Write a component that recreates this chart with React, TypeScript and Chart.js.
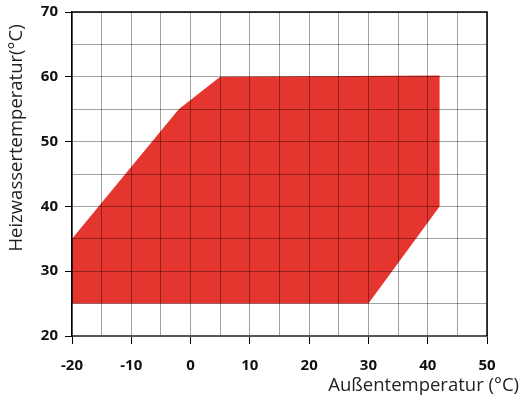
import React, { useEffect, useRef } from "react";
import { Chart, registerables } from "chart.js";

Chart.register(...registerables);

const boundaryX = [-20, -20, -2, 5, 42, 42, 30, -20];
const boundaryY = [25, 35, 55, 60, 60.2, 40, 25, 25];
const xTitle = "Außentemperatur (°C)";
const yTitle = "Heizwassertemperatur(°C)";

const FONT = "'Open Sans', 'DejaVu Sans', sans-serif";

export default function App() {
  const ref = useRef<HTMLCanvasElement | null>(null);
  useEffect(() => {
    if (!ref.current) return;
    const titlesPlugin = {
      id: "titlesPlugin",
      afterDraw(chart: any) {
        const ctx = chart.ctx;
        ctx.save();
        ctx.font = `18.5px ${FONT}`;
        ctx.fillStyle = "#222";
        ctx.textAlign = "right";
        ctx.textBaseline = "middle";
        ctx.fillText(xTitle, 519, 386);
        ctx.save();
        ctx.translate(17, 138);
        ctx.rotate(-Math.PI / 2);
        ctx.textAlign = "center";
        ctx.fillText(yTitle, 0, 0);
        ctx.restore();
        const a = chart.chartArea;
        ctx.strokeStyle = "#000";
        ctx.lineWidth = 1.5;
        ctx.beginPath();
        ctx.moveTo(a.left, a.top);
        ctx.lineTo(a.right, a.top);
        ctx.lineTo(a.right, a.bottom);
        ctx.stroke();
        ctx.restore();
      },
    };
    const tickCol = (c: any) => (c.tick && c.tick.value % 10 === 0 ? "#000" : "rgba(0,0,0,0)");
    const chart = new Chart(ref.current, {
      type: "scatter",
      data: {
        datasets: [
          {
            data: boundaryX.map((x, i) => ({ x, y: boundaryY[i] })),
            showLine: true,
            fill: "shape",
            backgroundColor: "#e5352f",
            borderColor: "#e5352f",
            borderWidth: 0,
            pointRadius: 0,
            tension: 0,
          } as any,
        ],
      },
      options: {
        animation: false,
        responsive: true,
        maintainAspectRatio: false,
        layout: { padding: { top: 12, right: 35, left: 0, bottom: 0 } },
        plugins: { legend: { display: false }, tooltip: { enabled: false } },
        scales: {
          x: {
            type: "linear",
            min: -20,
            max: 50,
            afterFit(scale: any) {
              scale.height = 62;
              scale.paddingLeft = 0;
              scale.paddingRight = 0;
            },
            ticks: {
              stepSize: 5,
              autoSkip: false,
              maxRotation: 0,
              padding: 13,
              color: "#111",
              font: { family: FONT, size: 15, weight: "bold" },
              callback: (v: any) => (Number(v) % 10 === 0 ? String(v) : ""),
            },
            grid: {
              z: 1,
              color: "rgba(0,0,0,0.36)",
              lineWidth: 1,
              tickLength: 8,
              tickColor: tickCol,
            },
            border: { color: "#555", width: 2, z: 2 },
          },
          y: {
            type: "linear",
            min: 20,
            max: 70,
            afterFit(scale: any) {
              scale.width = 72;
              scale.paddingTop = 0;
              scale.paddingBottom = 0;
            },
            ticks: {
              stepSize: 5,
              autoSkip: false,
              padding: 7,
              color: "#111",
              font: { family: FONT, size: 15, weight: "bold" },
              callback: (v: any) => (Number(v) % 10 === 0 ? String(v) : ""),
            },
            grid: {
              z: 1,
              color: "rgba(0,0,0,0.36)",
              lineWidth: 1,
              tickLength: 7,
              tickColor: tickCol,
            },
            border: { color: "#000", width: 1.5, z: 2 },
          },
        },
      },
      plugins: [titlesPlugin],
    });
    return () => chart.destroy();
  }, []);
  return (
    <div style={{ position: "fixed", left: 0, top: 0, width: 522, height: 398, background: "#fff" }}>
      <canvas ref={ref} />
    </div>
  );
}
